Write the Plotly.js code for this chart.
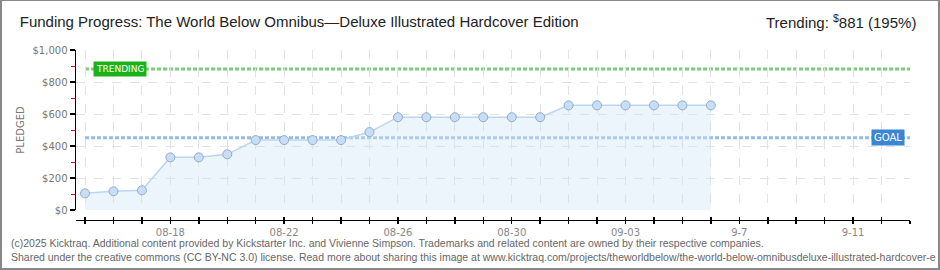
<!DOCTYPE html>
<html>
<head>
<meta charset="utf-8">
<script src="https://cdn.plot.ly/plotly-3.0.1.min.js"></script>
<style>
  html, body { margin: 0; padding: 0; background: #fff; }
  #wrap { position: relative; width: 940px; height: 270px; overflow: hidden; }
  #chart { width: 940px; height: 270px; }
  #frame { position: absolute; left: 0; top: 0; width: 940px; height: 270px; box-sizing: border-box;
           border: 2px solid #888; border-top-width: 1px; pointer-events: none; }
</style>
</head>
<body>
<div id="wrap"><div id="chart"></div><div id="frame"></div></div>
<script>
// ---- data ----
const dates = ['2025-08-15','2025-08-16','2025-08-17','2025-08-18','2025-08-19','2025-08-20','2025-08-21',
               '2025-08-22','2025-08-23','2025-08-24','2025-08-25','2025-08-26','2025-08-27','2025-08-28',
               '2025-08-29','2025-08-30','2025-08-31','2025-09-01','2025-09-02','2025-09-03','2025-09-04',
               '2025-09-05','2025-09-06'];
const pledged = [104, 117, 123, 329, 329, 348, 437, 437, 437, 437, 487, 580, 580, 580,
                 580, 580, 580, 654, 654, 654, 654, 654, 654];
const goal = 451;
const trending = 881;
const trendingPct = 195;
const labelDates = ['2025-08-18','2025-08-22','2025-08-26','2025-08-30','2025-09-03','2025-09-07','2025-09-11'];
const labelTexts = ['08-18','08-22','08-26','08-30','09-03','9-7','9-11'];
const titleText = 'Funding Progress: The World Below Omnibus\u2014Deluxe Illustrated Hardcover Edition';
const footer1 = '(c)2025 Kicktraq. Additional content provided by Kickstarter Inc. and Vivienne Simpson. Trademarks and related content are owned by their respective companies.';
const footer2 = 'Shared under the creative commons (CC BY-NC 3.0) license. Read more about sharing this image at www.kicktraq.com/projects/theworldbelow/the-world-below-omnibusdeluxe-illustrated-hardcover-e';

// ---- axis setup ----
const xStart = '2025-08-14 16:24';
const xEnd = '2025-09-13';
const DAY = 86400000;
const allDays = [];
const allText = [];
for (let t = Date.parse(dates[0] + 'T00:00:00Z'); t <= Date.parse(xEnd + 'T00:00:00Z'); t += DAY) {
  const d = new Date(t).toISOString().slice(0, 10);
  allDays.push(d);
  const i = labelDates.indexOf(d);
  allText.push(i >= 0 ? labelTexts[i] : '');
}

const sans = 'Liberation Sans, Arial, sans-serif';
const pix = 'DejaVu Sans, sans-serif';

const traces = [
  {
    x: dates, y: pledged, type: 'scatter', mode: 'lines+markers',
    fill: 'tozeroy', fillcolor: 'rgba(208,228,248,0.4)',
    line: { color: '#bcd6f2', width: 1.5 },
    marker: { size: 9, color: '#c8def7', line: { color: '#93acc9', width: 1 } },
    hoverinfo: 'skip', showlegend: false, xaxis: 'x', yaxis: 'y'
  },
  {
    x: [dates[0]], y: [0], xaxis: 'x2', yaxis: 'y2', mode: 'markers',
    marker: { opacity: 0 }, hoverinfo: 'skip', showlegend: false
  },
  {
    x: [dates[0]], y: [0], xaxis: 'x3', yaxis: 'y2', mode: 'markers',
    marker: { opacity: 0 }, hoverinfo: 'skip', showlegend: false
  }
];

const layout = {
  width: 940, height: 270,
  margin: { l: 76, r: 30, t: 50, b: 40 },
  paper_bgcolor: '#fff', plot_bgcolor: 'rgba(0,0,0,0)',
  showlegend: false,
  title: {
    text: titleText,
    font: { family: sans, size: 15, color: '#222' },
    xref: 'container', yref: 'container', x: 0.021, xanchor: 'left', y: 0.92, yanchor: 'middle'
  },
  xaxis: {
    type: 'date', range: [xStart, xEnd], anchor: 'y',
    tickmode: 'array', tickvals: allDays, ticks: '', showticklabels: false,
    showgrid: true, gridcolor: '#e2e2e2', griddash: 'dash', gridwidth: 1,
    showline: false, zeroline: false, fixedrange: true
  },
  xaxis2: {
    type: 'date', range: [xStart, xEnd], anchor: 'y2', overlaying: 'x',
    tickmode: 'array', tickvals: allDays, ticktext: allText,
    ticks: 'outside', ticklen: 3, tickwidth: 1.5, tickcolor: '#000',
    tickfont: { family: pix, size: 10, color: '#888' },
    showline: true, linecolor: '#000', linewidth: 1.5,
    showgrid: false, zeroline: false
  },
  xaxis3: {
    type: 'date', range: [xStart, xEnd], anchor: 'y2', overlaying: 'x',
    tickmode: 'array', tickvals: allDays, showticklabels: false,
    ticks: 'inside', ticklen: 3, tickwidth: 1.5, tickcolor: '#000',
    showline: false, showgrid: false, zeroline: false
  },
  yaxis: {
    range: [0, 1000], domain: [0.1111, 1], anchor: 'x',
    dtick: 200, tick0: 0, tickprefix: '$', tickformat: ',d',
    tickfont: { family: pix, size: 10, color: '#777' },
    ticks: 'outside', ticklen: 5, tickwidth: 1.5, tickcolor: '#000',
    showline: true, linecolor: '#000', linewidth: 1.5,
    showgrid: true, gridcolor: '#e2e2e2', griddash: 'dash',
    zeroline: false,
    minor: { dtick: 100, tick0: 0, ticks: 'outside', ticklen: 4, tickcolor: '#e00', tickwidth: 1, showgrid: false },
    title: { text: 'PLEDGED', font: { family: pix, size: 10, color: '#777' }, standoff: 6 }
  },
  yaxis2: {
    range: [0, 1], domain: [0.0556, 0.06], anchor: 'x2', visible: false
  },
  shapes: [
    { type: 'line', xref: 'x', yref: 'y', x0: dates[0], x1: xEnd, y0: trending, y1: trending,
      line: { color: '#7bcc7b', width: 3, dash: '4px,2px' }, layer: 'below' },
    { type: 'line', xref: 'x', yref: 'y', x0: dates[0], x1: xEnd, y0: goal, y1: goal,
      line: { color: '#93bce6', width: 3, dash: '4px,2px' }, layer: 'below' }
  ],
  annotations: [
    { xref: 'x', yref: 'y', x: dates[0], y: trending, xanchor: 'left', yanchor: 'middle', xshift: 8,
      text: 'TRENDING', showarrow: false, bgcolor: '#19b319', borderpad: 2,
      font: { family: pix, size: 9, color: '#fff' } },
    { xref: 'x', yref: 'y', x: xEnd, y: goal, xanchor: 'right', yanchor: 'middle', xshift: -5,
      text: 'GOAL', showarrow: false, bgcolor: '#3a86d5', borderpad: 2,
      font: { family: pix, size: 10, color: '#fff' } },
    { xref: 'paper', yref: 'paper', x: 1.0096, y: 1.161, xanchor: 'right', yanchor: 'middle',
      text: 'Trending: <sup>$</sup>' + trending + ' (' + trendingPct + '%)', showarrow: false,
      font: { family: sans, size: 15, color: '#222' } },
    { xref: 'paper', yref: 'paper', x: -0.0803, y: -0.072, xanchor: 'left', yanchor: 'middle',
      text: footer1, showarrow: false, font: { family: sans, size: 10.5, color: '#666' } },
    { xref: 'paper', yref: 'paper', x: -0.0803, y: -0.15, xanchor: 'left', yanchor: 'middle',
      text: footer2, showarrow: false, font: { family: sans, size: 10.5, color: '#666' } }
  ]
};

Plotly.newPlot('chart', traces, layout, { staticPlot: true, displayModeBar: false });
</script>
</body>
</html>
